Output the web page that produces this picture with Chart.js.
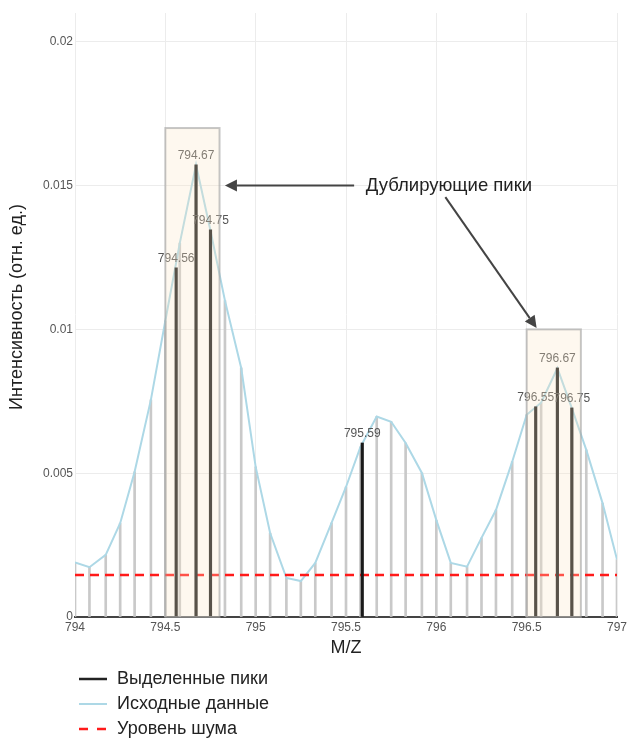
<!DOCTYPE html>
<html>
<head>
<meta charset="utf-8">
<script src="https://cdn.jsdelivr.net/npm/chart.js@4.4.1/dist/chart.umd.min.js"></script>
<style>
  html, body { margin: 0; padding: 0; background: #fff; }
</style>
</head>
<body>
<canvas id="spectrumChart" width="627" height="740"></canvas>
<script>
// Исходный спектр (M/Z и интенсивность)
const mzRaw = [794.00, 794.08, 794.17, 794.25, 794.33, 794.42, 794.50, 794.58, 794.67, 794.75,
  794.83, 794.92, 795.00, 795.08, 795.17, 795.25, 795.33, 795.42, 795.50, 795.58,
  795.67, 795.75, 795.83, 795.92, 796.00, 796.08, 796.17, 796.25, 796.33, 796.42,
  796.50, 796.58, 796.67, 796.75, 796.83, 796.92, 797.00];
const intensityRaw = [0.00190, 0.00173, 0.00216, 0.00326, 0.00505, 0.00755, 0.01030, 0.01300, 0.01572, 0.01343,
  0.01100, 0.00866, 0.00522, 0.00292, 0.00136, 0.00125, 0.00188, 0.00327, 0.00452, 0.00591,
  0.00697, 0.00679, 0.00605, 0.00501, 0.00337, 0.00188, 0.00175, 0.00275, 0.00372, 0.00540,
  0.00703, 0.00745, 0.00865, 0.00726, 0.00581, 0.00396, 0.00200];

// Выделенные пики
const peakMz = [794.56, 794.67, 794.75, 795.59, 796.55, 796.67, 796.75];
const peakIntensity = [0.01214, 0.01572, 0.01346, 0.00605, 0.00731, 0.00866, 0.00727];
const peakLabels = ['794.56', '794.67', '794.75', '795.59', '796.55', '796.67', '796.75'];

// Уровень шума
const noiseLevel = 0.00146;

// Области дублирующих пиков
const boxStart = [794.5, 796.5];
const boxEnd = [794.8, 796.8];
const boxTop = [0.017, 0.01];

// Оси
const xMin = 794, xMax = 797, yMax = 0.021;
const xTicks = [794, 794.5, 795, 795.5, 796, 796.5, 797];
const yTicks = [0, 0.005, 0.01, 0.015, 0.02];

// Подписи
const legendLabels = ['Выделенные пики', 'Исходные данные', 'Уровень шума'];
const noteText = 'Дублирующие пики';
const noteAt = [796.07, 0.015];
const arrowFrom = [[795.545, 0.015], [796.05, 0.0146]];
const arrowTo = [[794.83, 0.015], [796.555, 0.01005]];

const FONT = '"Liberation Sans", Arial, sans-serif';

function drawArrow(ctx, x1, y1, x2, y2) {
  const ang = Math.atan2(y2 - y1, x2 - x1);
  const head = 12, half = 6;
  const bx = x2 - head * Math.cos(ang), by = y2 - head * Math.sin(ang);
  ctx.beginPath();
  ctx.moveTo(x1, y1);
  ctx.lineTo(bx, by);
  ctx.stroke();
  ctx.beginPath();
  ctx.moveTo(x2, y2);
  ctx.lineTo(bx + half * Math.sin(ang), by - half * Math.cos(ang));
  ctx.lineTo(bx - half * Math.sin(ang), by + half * Math.cos(ang));
  ctx.closePath();
  ctx.fill();
}

const overlayPlugin = {
  id: 'overlay',
  afterDatasetsDraw(chart) {
    const { ctx, scales: { x, y } } = chart;
    ctx.save();
    // подписи пиков
    ctx.font = '12px ' + FONT;
    ctx.fillStyle = '#555';
    ctx.textAlign = 'center';
    ctx.textBaseline = 'bottom';
    peakMz.forEach((m, i) => {
      ctx.fillText(peakLabels[i], x.getPixelForValue(m), y.getPixelForValue(peakIntensity[i]) - 3);
    });
    // прямоугольники поверх всего
    boxStart.forEach((b, i) => {
      const l = x.getPixelForValue(b), r = x.getPixelForValue(boxEnd[i]);
      const t = y.getPixelForValue(boxTop[i]), bt = y.getPixelForValue(0);
      ctx.fillStyle = 'rgba(250, 229, 196, 0.28)';
      ctx.fillRect(l, t, r - l, bt - t);
      ctx.strokeStyle = 'rgba(160, 160, 160, 0.6)';
      ctx.lineWidth = 2;
      ctx.strokeRect(l, t, r - l, bt - t);
    });
    ctx.restore();
  },
  afterDraw(chart) {
    const { ctx, scales: { x, y }, chartArea } = chart;
    ctx.save();
    // стрелки и текст
    ctx.strokeStyle = '#444';
    ctx.fillStyle = '#444';
    ctx.lineWidth = 2;
    arrowFrom.forEach((f, i) => {
      drawArrow(ctx, x.getPixelForValue(f[0]), y.getPixelForValue(f[1]),
        x.getPixelForValue(arrowTo[i][0]), y.getPixelForValue(arrowTo[i][1]));
    });
    ctx.fillStyle = '#222';
    ctx.font = '18.5px ' + FONT;
    ctx.textAlign = 'center';
    ctx.textBaseline = 'middle';
    ctx.fillText(noteText, x.getPixelForValue(noteAt[0]), y.getPixelForValue(noteAt[1]));

    // заголовки осей
    ctx.font = '18px ' + FONT;
    ctx.fillText('M/Z', (chartArea.left + chartArea.right) / 2, 648);
    ctx.save();
    ctx.translate(17, 307);
    ctx.rotate(-Math.PI / 2);
    ctx.fillText('Интенсивность (отн. ед.)', 0, 0);
    ctx.restore();

    // легенда
    const rows = [679, 704, 729];
    ctx.textAlign = 'left';
    ctx.font = '18px ' + FONT;
    rows.forEach((ry, i) => {
      ctx.beginPath();
      if (i === 0) { ctx.strokeStyle = '#222'; ctx.setLineDash([]); ctx.lineWidth = 2.5; }
      if (i === 1) { ctx.strokeStyle = '#add8e6'; ctx.setLineDash([]); ctx.lineWidth = 2; }
      if (i === 2) { ctx.strokeStyle = '#ff1a1a'; ctx.setLineDash([9, 9]); ctx.lineWidth = 2.5; }
      ctx.moveTo(79, ry);
      ctx.lineTo(107, ry);
      ctx.stroke();
      ctx.setLineDash([]);
      ctx.fillStyle = '#222';
      ctx.fillText(legendLabels[i], 117, ry);
    });
    ctx.restore();
  }
};

const ctx = document.getElementById('spectrumChart').getContext('2d');
new Chart(ctx, {
  type: 'bar',
  data: {
    datasets: [
      {
        type: 'bar',
        label: legendLabels[0],
        data: peakMz.map((m, i) => ({ x: m, y: peakIntensity[i] })),
        backgroundColor: '#1a1a1a',
        barThickness: 2.5,
        grouped: false,
        order: 1
      },
      {
        type: 'line',
        label: legendLabels[2],
        data: [{ x: xMin, y: noiseLevel }, { x: xMax, y: noiseLevel }],
        borderColor: '#ff1a1a',
        borderWidth: 2.5,
        borderDash: [9, 6],
        pointRadius: 0,
        order: 2
      },
      {
        type: 'line',
        label: legendLabels[1],
        data: mzRaw.map((m, i) => ({ x: m, y: intensityRaw[i] })),
        borderColor: '#add8e6',
        borderWidth: 2,
        pointRadius: 0,
        tension: 0,
        order: 3
      },
      {
        type: 'bar',
        label: 'stems',
        data: mzRaw.map((m, i) => ({ x: m, y: intensityRaw[i] })),
        backgroundColor: '#c9c9c9',
        barThickness: 2,
        grouped: false,
        order: 4
      }
    ]
  },
  options: {
    responsive: false,
    animation: false,
    layout: { padding: { top: 13, right: 10, left: 0, bottom: 0 } },
    plugins: { legend: { display: false }, tooltip: { enabled: false } },
    scales: {
      x: {
        type: 'linear',
        min: xMin,
        max: xMax,
        offset: false,
        afterBuildTicks: s => { s.ticks = xTicks.map(v => ({ value: v })); },
        afterFit: s => { s.height = 123; s.paddingLeft = 0; s.paddingRight = 0; },
        ticks: { color: '#555', font: { family: FONT, size: 12 }, padding: 3, maxRotation: 0, autoSkip: false, callback: v => String(v) },
        grid: { color: '#ececec', lineWidth: 1, drawTicks: false, offset: false },
        border: { display: true, color: '#444', width: 2 }
      },
      y: {
        min: 0,
        max: yMax,
        afterBuildTicks: s => { s.ticks = yTicks.map(v => ({ value: v })); },
        afterFit: s => { s.width = 75; s.paddingTop = 0; s.paddingBottom = 0; },
        ticks: { color: '#555', font: { family: FONT, size: 12 }, padding: 2, callback: v => String(v) },
        grid: { color: '#ececec', lineWidth: 1, drawTicks: false },
        border: { display: false }
      }
    }
  },
  plugins: [overlayPlugin]
});
</script>
</body>
</html>
